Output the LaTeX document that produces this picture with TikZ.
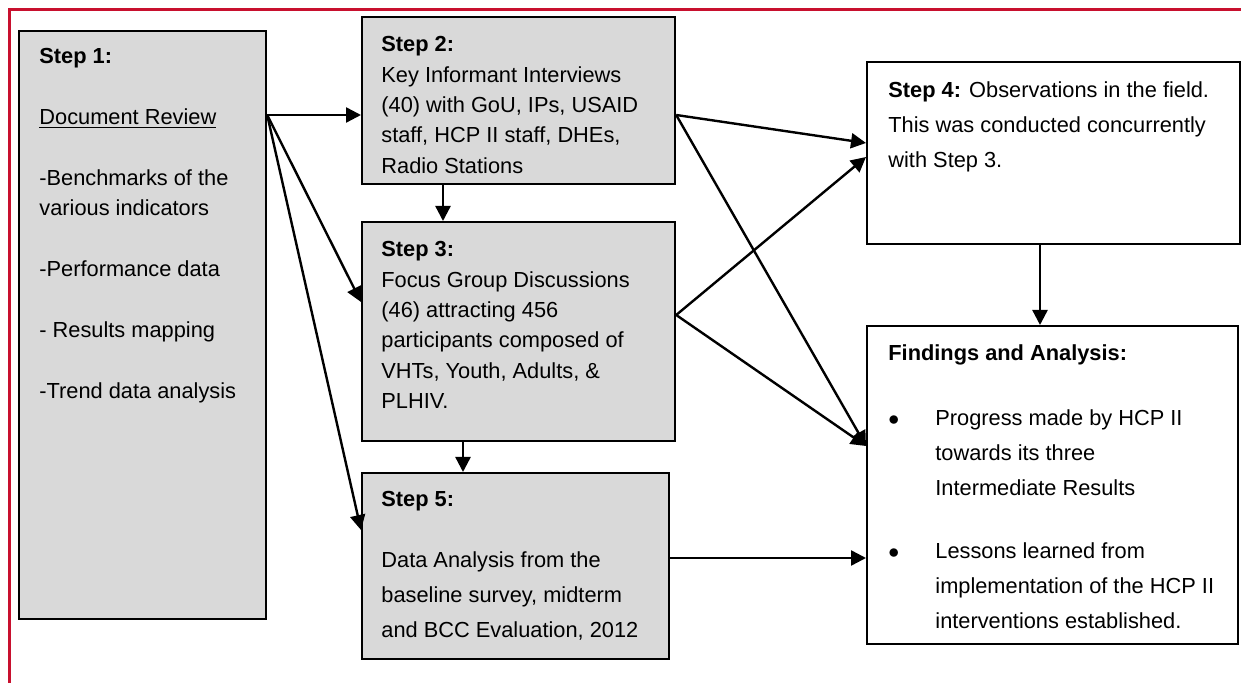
\documentclass[tikz,border=0pt]{standalone}
\usepackage{fontspec}
\setmainfont{Liberation Sans}
\usetikzlibrary{arrows.meta, positioning}
\definecolor{framered}{HTML}{C8102E}
\definecolor{boxgrey}{HTML}{D9D9D9}

\begin{document}
\begin{tikzpicture}[x=0.5pt, y=-0.5pt,
    greybox/.style={draw, fill=boxgrey, line width=1.1pt, anchor=north west, inner sep=0pt},
    whitebox/.style={greybox, fill=white},
    boxtext/.style={align=left, inner sep=0pt, font=\fontsize{10.9}{15.2}\selectfont},
    widetext/.style={boxtext, font=\fontsize{10.9}{17.5}\selectfont},
    arr/.style={-{Triangle[length=7.5pt, width=7.5pt]}, line width=1.2pt}]
    \useasboundingbox (0,0) rectangle (1241,683);
    \draw[framered, line width=1.75pt] (9.5,683) -- (9.5,9.5) -- (1241,9.5);

    \node[greybox, minimum width=123.5pt, minimum height=294pt] (s1) at (18,30) {};
    \node[greybox, minimum width=156.5pt, minimum height=83.5pt] (s2) at (361,16) {};
    \node[greybox, minimum width=156.5pt, minimum height=109.5pt] (s3) at (361,221) {};
    \node[greybox, minimum width=153.5pt, minimum height=93pt] (s5) at (361,472) {};
    \node[whitebox, minimum width=186.5pt, minimum height=91pt] (s4) at (866,61) {};
    \node[whitebox, minimum width=185.5pt, minimum height=159pt] (fa) at (866,325) {};

    \node[boxtext, below right=9pt and 10.5pt of s1.north west] (s1txt) {\textbf{Step 1:}\\[15.2pt]\underline{Document Review}\\[15.2pt]-Benchmarks of the\\various indicators\\[15.2pt]-Performance data\\[15.2pt]- Results mapping\\[15.2pt]-Trend data analysis};
    \node[boxtext, below right=10pt and 10pt of s2.north west] (s2txt) {\textbf{Step 2:}\\Key Informant Interviews\\(40) with GoU, IPs, USAID\\staff, HCP II staff, DHEs,\\Radio Stations};
    \node[boxtext, below right=10pt and 10pt of s3.north west] (s3txt) {\textbf{Step 3:}\\Focus Group Discussions\\(46) attracting 456\\participants composed of\\VHTs, Youth, Adults, \&\\PLHIV.};
    \node[widetext, below right=9.5pt and 10pt of s5.north west] (s5txt) {\textbf{Step 5:}\\[13pt]Data Analysis from the\\baseline survey, midterm\\and BCC Evaluation, 2012};
    \node[widetext, below right=10pt and 11pt of s4.north west] (s4txt) {\textbf{Step 4:} Observations in the field.\\This was conducted concurrently\\with Step 3.};
    \node[widetext, below right=9.5pt and 11pt of fa.north west] (fatxt) {\textbf{Findings and Analysis:}\\[15pt]\makebox[23.5pt][l]{$\bullet$}Progress made by HCP II\\\hspace*{23.5pt}towards its three\\\hspace*{23.5pt}Intermediate Results\\[14pt]\makebox[23.5pt][l]{$\bullet$}Lessons learned from\\\hspace*{23.5pt}implementation of the HCP II\\\hspace*{23.5pt}interventions established.};

    \coordinate (s1out) at ([yshift=-42.5pt]s1.north east);
    \coordinate (s2out) at ([yshift=-49.5pt]s2.north east);
    \coordinate (s3out) at ([yshift=-47pt]s3.north east);
    \coordinate (fain) at ([yshift=-60.5pt]fa.north west);

    \draw[arr] (s1out) -- (s2.west |- s1out);
    \draw[arr] (s1out) -- ([yshift=-40.5pt]s3.north west);
    \draw[arr] (s1out) -- ([yshift=-29pt]s5.north west);
    \draw[arr] ([xshift=41pt]s2.south west) -- ([xshift=41pt]s3.north west);
    \draw[arr] ([xshift=51pt]s3.south west) -- ([xshift=51pt]s5.north west);
    \draw[arr] (s2out) -- ([yshift=-41pt]s4.north west);
    \draw[arr] (s2out) -- (fain);
    \draw[arr] (s3out) -- ([yshift=-48pt]s4.north west);
    \draw[arr] (s3out) -- (fain);
    \draw[arr] ([yshift=-43pt]s5.north east) -- ([yshift=-43pt]s5.north east -| fa.west);
    \draw[arr] ([xshift=87pt]s4.south west) -- ([xshift=87pt]fa.north west);
\end{tikzpicture}
\end{document}
